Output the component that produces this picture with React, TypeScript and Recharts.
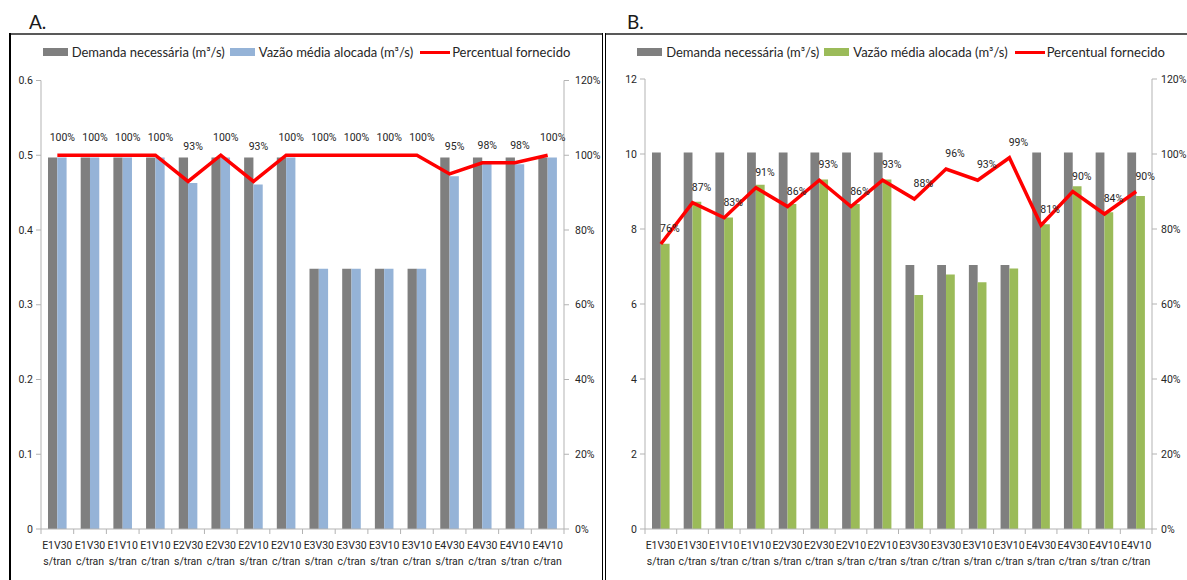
import React from "react";
import { Bar, ComposedChart, LabelList, Line, XAxis, YAxis } from "recharts";

const categories = [
  "E1V30 s/tran",
  "E1V30 c/tran",
  "E1V10 s/tran",
  "E1V10 c/tran",
  "E2V30 s/tran",
  "E2V30 c/tran",
  "E2V10 s/tran",
  "E2V10 c/tran",
  "E3V30 s/tran",
  "E3V30 c/tran",
  "E3V10 s/tran",
  "E3V10 c/tran",
  "E4V30 s/tran",
  "E4V30 c/tran",
  "E4V10 s/tran",
  "E4V10 c/tran",
];

// A. demanda / vazão (m³/s) and percentual fornecido (%)
const demandA = [0.497, 0.497, 0.497, 0.497, 0.497, 0.497, 0.497, 0.497, 0.348, 0.348, 0.348, 0.348, 0.497, 0.497, 0.497, 0.497];
const allocatedA = [0.497, 0.497, 0.497, 0.497, 0.463, 0.497, 0.461, 0.497, 0.348, 0.348, 0.348, 0.348, 0.472, 0.489, 0.488, 0.497];
const pctA = [100, 100, 100, 100, 93, 100, 93, 100, 100, 100, 100, 100, 95, 98, 98, 100];

// B.
const demandB = [10.04, 10.04, 10.04, 10.04, 10.04, 10.04, 10.04, 10.04, 7.04, 7.04, 7.04, 7.04, 10.04, 10.04, 10.04, 10.04];
const allocatedB = [7.61, 8.73, 8.31, 9.18, 8.67, 9.32, 8.67, 9.32, 6.24, 6.79, 6.58, 6.95, 8.13, 9.14, 8.45, 8.88];
const pctB = [76, 87, 83, 91, 86, 93, 86, 93, 88, 96, 93, 99, 81, 90, 84, 90];

const leftTicksA = [0, 0.1, 0.2, 0.3, 0.4, 0.5, 0.6];
const leftTicksB = [0, 2, 4, 6, 8, 10, 12];
const pctTicks = [0, 20, 40, 60, 80, 100, 120];

const legendLabels = ["Demanda necessária (m³/s)", "Vazão média alocada (m³/s)", "Percentual fornecido"];

const FONT = "Lato, 'Liberation Sans', sans-serif";
const SMALL = "Roboto, 'Liberation Sans', sans-serif";
const TEXT = "#262626";
const AXIS = "#b3b3b3";
const GRAY = "#7f7f7f";
const RED = "#ff0000";

// two-line category label, plus the tick marks between categories
function CatTick({ x, y, payload, index, width, visibleTicksCount }: any) {
  const [top, bottom] = String(payload.value).split(" ");
  const half = payload.offset || width / visibleTicksCount / 2;
  const last = index === visibleTicksCount - 1;
  return (
    <g>
      <line x1={x - half} x2={x - half} y1={y} y2={y + 5} stroke={AXIS} />
      {last && <line x1={x + half} x2={x + half} y1={y} y2={y + 5} stroke={AXIS} />}
      <text x={x} y={y} textAnchor="middle" fill={TEXT} fontSize={10.5} fontFamily={SMALL}>
        <tspan x={x} dy={20}>{top}</tspan>
        <tspan x={x} dy={16}>{bottom}</tspan>
      </text>
    </g>
  );
}

function Legend({ color, left, width }: { color: string; left: number; width: number }) {
  const swatch = (bg: string) => (
    <span style={{ display: "inline-block", width: 25, height: 8, background: bg, marginRight: 4 }} />
  );
  return (
    <div
      style={{
        position: "absolute",
        left,
        top: 43,
        width,
        height: 18,
        display: "flex",
        justifyContent: "center",
        alignItems: "center",
        fontFamily: FONT,
        fontSize: 13,
        color: TEXT,
        whiteSpace: "nowrap",
      }}
    >
      {swatch(GRAY)}
      <span style={{ marginRight: 5 }}>{legendLabels[0]}</span>
      {swatch(color)}
      <span style={{ marginRight: 7 }}>{legendLabels[1]}</span>
      <span style={{ display: "inline-block", width: 30, height: 3, background: RED, marginRight: 2 }} />
      <span>{legendLabels[2]}</span>
    </div>
  );
}

type PanelProps = {
  left: number;
  width: number;
  axisLeft: number;
  axisRight: number;
  rightMargin: number;
  top: number;
  demand: number[];
  allocated: number[];
  pct: number[];
  leftTicks: number[];
  color: string;
  barSize: number;
  labelDx: number;
  lift: (v: number) => number;
};

function Panel(p: PanelProps) {
  const data = categories.map((cat, i) => ({
    cat,
    demand: p.demand[i],
    allocated: p.allocated[i],
    pct: p.pct[i],
  }));
  const height = 546;
  const renderLabel = (props: any) => {
    const x = Number(props.x);
    const y = Number(props.y);
    const v = Number(props.value);
    return (
      <text x={x + p.labelDx} y={y - p.lift(v) + 4} textAnchor="middle" fill={TEXT} fontSize={10.5} fontFamily={SMALL}>
        {v}%
      </text>
    );
  };
  const tickStyle = { fill: TEXT, fontSize: 10.5, fontFamily: SMALL };
  return (
    <div style={{ position: "absolute", left: p.left, top: 34 }}>
      <ComposedChart
        width={p.width}
        height={height}
        data={data}
        barGap={0}
        margin={{ top: p.top, right: 0, bottom: 0, left: 0 }}
      >
        <XAxis
          xAxisId="cat"
          dataKey="cat"
          height={51}
          interval={0}
          axisLine={{ stroke: AXIS }}
          tickLine={false}
          tickSize={0}
          tickMargin={0}
          tick={<CatTick />}
        />
        <YAxis
          yAxisId="left"
          width={p.axisLeft}
          domain={[0, p.leftTicks[p.leftTicks.length - 1]]}
          ticks={p.leftTicks}
          interval={0}
          axisLine={{ stroke: AXIS }}
          tickLine={{ stroke: AXIS }}
          tickSize={5}
          tickMargin={3}
          tick={tickStyle}
          allowDataOverflow
        />
        <YAxis
          yAxisId="pct"
          orientation="right"
          width={p.axisRight}
          domain={[0, 120]}
          ticks={pctTicks}
          interval={0}
          tickFormatter={(v) => `${v}%`}
          axisLine={{ stroke: AXIS }}
          tickLine={{ stroke: AXIS }}
          tickSize={5}
          tickMargin={p.rightMargin}
          tick={tickStyle}
          allowDataOverflow
        />
        <Bar xAxisId="cat" yAxisId="left" dataKey="demand" fill={GRAY} barSize={p.barSize} isAnimationActive={false} />
        <Bar xAxisId="cat" yAxisId="left" dataKey="allocated" fill={p.color} barSize={p.barSize} isAnimationActive={false} />
        <Line
          xAxisId="cat"
          yAxisId="pct"
          type="linear"
          dataKey="pct"
          stroke={RED}
          strokeWidth={3.5}
          dot={false}
          activeDot={false}
          isAnimationActive={false}
        >
          <LabelList dataKey="pct" content={renderLabel} />
        </Line>
      </ComposedChart>
    </div>
  );
}

export default function App() {
  const line = (style: React.CSSProperties) => <div style={{ position: "absolute", ...style }} />;
  const title = (text: string, left: number) => (
    <div
      style={{
        position: "absolute",
        left,
        top: 10,
        fontFamily: FONT,
        fontSize: 19,
        lineHeight: "24px",
        color: "#1a1a1a",
      }}
    >
      {text}
    </div>
  );
  return (
    <div style={{ position: "absolute", left: 0, top: 0, width: 1187, height: 580, background: "#fff", overflow: "hidden" }}>
      {title("A.", 29)}
      {title("B.", 627)}
      {line({ left: 10, top: 33, width: 593, height: 2, background: "#595959" })}
      {line({ left: 605, top: 33, width: 582, height: 2, background: "#595959" })}
      {line({ left: 9, top: 33, width: 2, height: 547, background: "#000" })}
      {line({ left: 602, top: 33, width: 1, height: 547, background: "#000" })}
      {line({ left: 605, top: 33, width: 1, height: 547, background: "#000" })}
      <Legend color="#95b3d7" left={11} width={591} />
      <Legend color="#9bbb59" left={615} width={572} />
      <Panel
        left={9}
        width={594}
        axisLeft={32}
        axisRight={39}
        rightMargin={6}
        top={46.5}
        demand={demandA}
        allocated={allocatedA}
        pct={pctA}
        leftTicks={leftTicksA}
        color="#95b3d7"
        barSize={9.3}
        labelDx={5}
        lift={(v) => 18 + Math.max(0, 98 - v) * 3.4}
      />
      <Panel
        left={605}
        width={582}
        axisLeft={40}
        axisRight={35}
        rightMargin={4}
        top={45}
        demand={demandB}
        allocated={allocatedB}
        pct={pctB}
        leftTicks={leftTicksB}
        color="#9bbb59"
        barSize={8.8}
        labelDx={9}
        lift={() => 16}
      />
    </div>
  );
}
